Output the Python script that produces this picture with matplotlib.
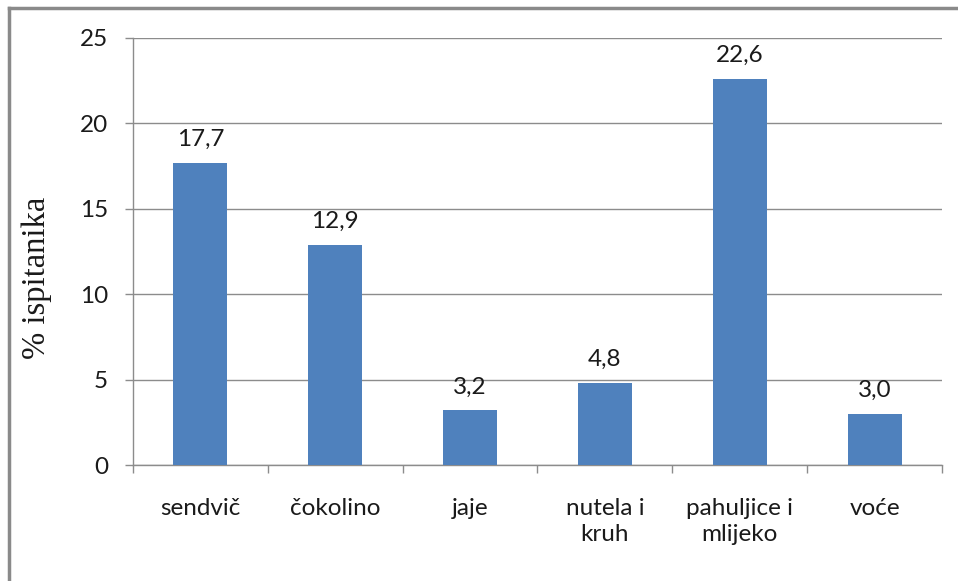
import matplotlib
matplotlib.use("Agg")
import matplotlib.pyplot as plt
from matplotlib.lines import Line2D
import numpy as np

categories = ["sendvič", "čokolino", "jaje", "nutela i\nkruh", "pahuljice i\nmlijeko", "voće"]
values = [17.7, 12.9, 3.2, 4.8, 22.6, 3.0]
y_ticks = [0, 5, 10, 15, 20, 25]
y_label = "% ispitanika"

bar_color = "#4F81BD"
grid_color = "#8C8C8C"
text_color = "#1A1A1A"

fig = plt.figure(figsize=(9.58, 5.81), dpi=100)
ax = fig.add_axes([133 / 958, 1 - 465 / 581, (942 - 133) / 958, (465 - 38) / 581])

x = np.arange(len(categories))
bars = ax.bar(x, values, width=0.4, color=bar_color, zorder=3)

for b, v in zip(bars, values):
    ax.annotate(f"{v:.1f}".replace(".", ","), (b.get_x() + b.get_width() / 2, v),
                xytext=(0, 13), textcoords="offset pixels", ha="center", va="bottom",
                fontsize=17.5, family="Lato", color=text_color)

ax.set_xlim(-0.5, len(categories) - 0.5)
ax.set_ylim(0, 25)
ax.set_yticks(y_ticks)
ax.set_yticklabels([str(t) for t in y_ticks], fontsize=17.5, family="Lato", color=text_color)
ax.set_xticks(x)
ax.set_xticklabels(categories, fontsize=17.5, family="Lato", color=text_color, linespacing=1.3)
ax.set_xticks(np.arange(-0.5, len(categories)), minor=True)
ax.tick_params(axis="x", which="major", length=0, pad=24)
ax.tick_params(axis="x", which="minor", length=6, color=grid_color, width=1)
ax.tick_params(axis="y", length=6, color=grid_color, width=1, pad=12)

ax.grid(axis="y", color=grid_color, linewidth=1, zorder=0)
for s in ["top", "right"]:
    ax.spines[s].set_visible(False)
for s in ["left", "bottom"]:
    ax.spines[s].set_color(grid_color)
    ax.spines[s].set_linewidth(1)

fig.text(37 / 958, 1 - 278 / 581, y_label, rotation=90, ha="center", va="center",
         fontsize=23.5, family="Liberation Serif", color=text_color)

# outer chart frame
fig.add_artist(Line2D([9 / 958, 9 / 958], [0, 1 - 8 / 581], transform=fig.transFigure,
                      color="#8A8A8A", linewidth=2.5))
fig.add_artist(Line2D([9 / 958, 1], [1 - 8 / 581, 1 - 8 / 581], transform=fig.transFigure,
                      color="#8A8A8A", linewidth=2.5))

fig.savefig("out.png", dpi=100)
